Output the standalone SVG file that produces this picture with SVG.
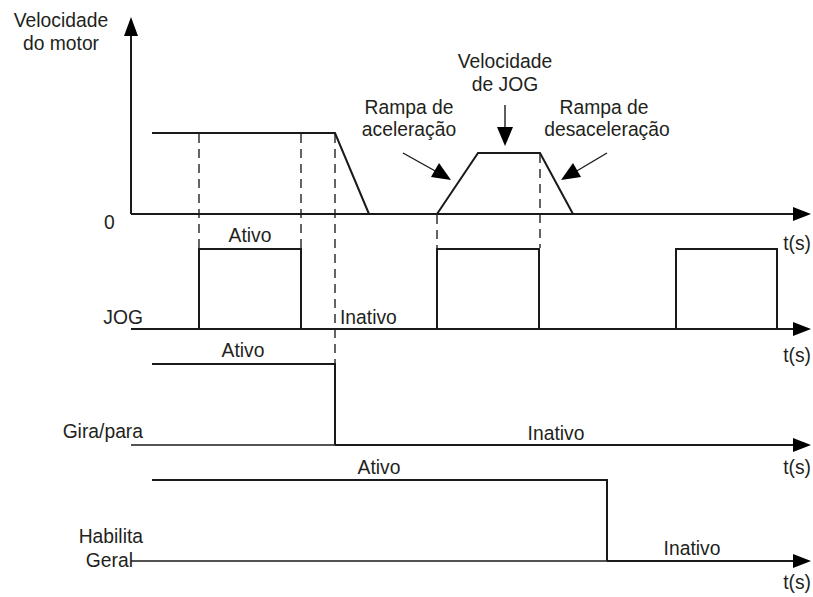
<svg xmlns="http://www.w3.org/2000/svg" width="813" height="597" viewBox="0 0 813 597">
<style>
text{font-family:"Liberation Sans",Arial,sans-serif;font-size:19.3px;fill:#231f20}
.m{text-anchor:middle}
.e{text-anchor:end}
.s{fill:none;stroke:#1a1a1a;stroke-width:2;stroke-linejoin:miter}
.t{fill:none;stroke:#1a1a1a;stroke-width:1.4}
.d{fill:none;stroke:#111;stroke-width:1.3;stroke-dasharray:9 6}
.h{fill:#000}
</style>
<rect width="813" height="597" fill="#fff"/>
<g id="connectors">
<line class="d" x1="199" y1="134" x2="199" y2="248"/>
<line class="d" x1="301" y1="134" x2="301" y2="248"/>
<line class="d" x1="335" y1="134" x2="335" y2="364"/>
<line class="d" x1="437" y1="215" x2="437" y2="248"/>
<line class="d" x1="540" y1="154" x2="540" y2="248"/>
<line class="s" x1="131" y1="30" x2="131" y2="214"/>
<polygon class="h" points="131,17 124,36 138,36"/>
<line class="s" x1="131" y1="214" x2="796" y2="214"/>
<polygon class="h" points="811,214 793,207 793,221"/>
<line class="s" x1="131" y1="329" x2="796" y2="329"/>
<polygon class="h" points="811,329 793,322 793,336"/>
<line class="t" x1="131" y1="445" x2="335" y2="445"/>
<line class="s" x1="335" y1="445" x2="796" y2="445"/>
<polygon class="h" points="811,445 793,438 793,452"/>
<line class="t" x1="131" y1="561" x2="607" y2="561"/>
<line class="s" x1="607" y1="561" x2="796" y2="561"/>
<polygon class="h" points="811,561 793,554 793,568"/>
<line class="t" x1="505" y1="105" x2="505" y2="130"/>
<polygon class="h" points="505,146 497,127 513,127"/>
<line class="t" x1="403" y1="153" x2="437" y2="172"/>
<polygon class="h" points="451,180 431,177 439,163"/>
<line class="t" x1="607" y1="153" x2="575" y2="172"/>
<polygon class="h" points="561,180 573,163 581,177"/>
</g>
<g id="speed">
<polyline class="s" points="152,133 335,133 369,214"/>
<polyline class="s" points="437,214 478,153 540,153 573,214"/>
</g>
<g id="jog">
<polyline class="s" points="199,329 199,249 301,249 301,329"/>
<polyline class="s" points="437,329 437,249 539,249 539,329"/>
<polyline class="s" points="676,329 676,249 777,249 777,329"/>
</g>
<g id="gira">
<polyline class="s" points="152,364 335,364 335,445"/>
</g>
<g id="habilita">
<polyline class="s" points="152,480 607,480 607,561"/>
</g>
<g id="labels">
<text class="m" x="61" y="27">Velocidade</text>
<text class="m" x="61" y="50">do motor</text>
<text x="104" y="229">0</text>
<text class="m" x="505" y="68">Velocidade</text>
<text class="m" x="505" y="91">de JOG</text>
<text class="m" x="409" y="114">Rampa de</text>
<text class="m" x="409" y="136">aceleração</text>
<text class="m" x="604" y="114">Rampa de</text>
<text class="m" x="607" y="136">desaceleração</text>
<text class="e" x="811" y="250">t(s)</text>
<text class="e" x="811" y="362">t(s)</text>
<text class="e" x="811" y="474">t(s)</text>
<text class="e" x="811" y="589">t(s)</text>
<text class="m" x="250" y="242">Ativo</text>
<text class="e" x="143" y="324">JOG</text>
<text x="340" y="324">Inativo</text>
<text class="m" x="243" y="357">Ativo</text>
<text class="e" x="143" y="438">Gira/para</text>
<text class="m" x="556" y="440">Inativo</text>
<text class="m" x="379" y="474">Ativo</text>
<text class="m" x="692" y="555">Inativo</text>
<text class="e" x="143" y="543">Habilita</text>
<text class="e" x="133" y="567">Geral</text>
</g>
</svg>
